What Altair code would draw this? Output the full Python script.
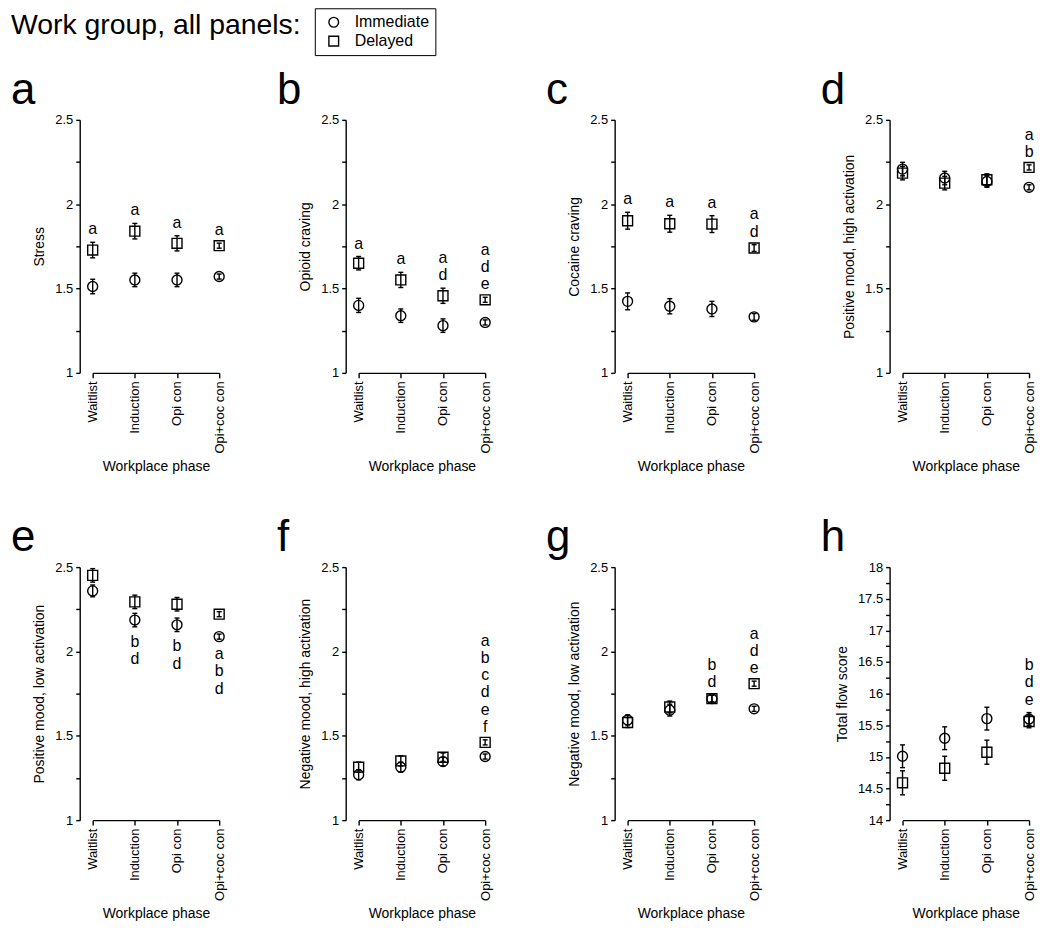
import altair as alt
import pandas as pd

FONT = "Liberation Sans"

header_text = "Work group, all panels:"
phases = ["Waitlist", "Induction", "Opi con", "Opi+coc con"]
groups = ["Immediate", "Delayed"]

panel_letters = ["a", "b", "c", "d", "e", "f", "g", "h"]
y_titles = [
    "Stress",
    "Opioid craving",
    "Cocaine craving",
    "Positive mood, high activation",
    "Positive mood, low activation",
    "Negative mood, high activation",
    "Negative mood, low activation",
    "Total flow score",
]

# Means and standard errors (Immediate / Delayed)
stress_imm = [1.512, 1.551, 1.551, 1.571]
stress_imm_se = [0.043, 0.040, 0.040, 0.015]
stress_del = [1.728, 1.840, 1.768, 1.754]
stress_del_se = [0.046, 0.046, 0.045, 0.015]
stress_letters = ["a", "a", "a", "a"]

opioid_imm = [1.400, 1.339, 1.280, 1.299]
opioid_imm_se = [0.042, 0.040, 0.040, 0.015]
opioid_del = [1.650, 1.551, 1.457, 1.433]
opioid_del_se = [0.040, 0.045, 0.045, 0.015]
opioid_letters = ["a", "a", "ad", "ade"]

cocaine_imm = [1.424, 1.395, 1.379, 1.332]
cocaine_imm_se = [0.050, 0.045, 0.045, 0.020]
cocaine_del = [1.902, 1.884, 1.882, 1.740]
cocaine_del_se = [0.050, 0.050, 0.050, 0.020]
cocaine_letters = ["a", "a", "a", "ad"]

poshigh_imm = [2.208, 2.155, 2.135, 2.100]
poshigh_imm_se = [0.040, 0.040, 0.035, 0.015]
poshigh_del = [2.184, 2.125, 2.145, 2.218]
poshigh_del_se = [0.040, 0.040, 0.035, 0.015]
poshigh_letters = ["", "", "", "ab"]

poslow_imm = [2.359, 2.186, 2.158, 2.088]
poslow_imm_se = [0.035, 0.040, 0.040, 0.015]
poslow_del = [2.451, 2.294, 2.280, 2.221]
poslow_del_se = [0.040, 0.040, 0.040, 0.015]
poslow_letters = ["", "bd", "bd", "abd"]

neghigh_imm = [1.269, 1.314, 1.347, 1.377]
neghigh_imm_se = [0.030, 0.030, 0.025, 0.015]
neghigh_del = [1.314, 1.351, 1.373, 1.461]
neghigh_del_se = [0.030, 0.030, 0.025, 0.015]
neghigh_letters = ["", "", "", "abcdef"]

neglow_imm = [1.594, 1.652, 1.720, 1.660]
neglow_imm_se = [0.030, 0.035, 0.020, 0.015]
neglow_del = [1.579, 1.671, 1.720, 1.809]
neglow_del_se = [0.030, 0.035, 0.020, 0.015]
neglow_letters = ["", "", "bd", "ade"]

flow_imm = [15.01, 15.295, 15.605, 15.60]
flow_imm_se = [0.18, 0.18, 0.18, 0.10]
flow_del = [14.59, 14.82, 15.074, 15.56]
flow_del_se = [0.19, 0.19, 0.19, 0.10]
flow_letters = ["", "", "", "bde"]

mood_domain = [1, 2.5]
mood_ticks = [1, 1.25, 1.5, 1.75, 2, 2.25, 2.5]
flow_domain = [14, 18]
flow_ticks = [14, 14.25, 14.5, 14.75, 15, 15.25, 15.5, 15.75, 16,
              16.25, 16.5, 16.75, 17, 17.25, 17.5, 17.75, 18]

imm = [stress_imm, opioid_imm, cocaine_imm, poshigh_imm, poslow_imm, neghigh_imm, neglow_imm, flow_imm]
imm_se = [stress_imm_se, opioid_imm_se, cocaine_imm_se, poshigh_imm_se, poslow_imm_se,
          neghigh_imm_se, neglow_imm_se, flow_imm_se]
dly = [stress_del, opioid_del, cocaine_del, poshigh_del, poslow_del, neghigh_del, neglow_del, flow_del]
dly_se = [stress_del_se, opioid_del_se, cocaine_del_se, poshigh_del_se, poslow_del_se,
          neghigh_del_se, neglow_del_se, flow_del_se]
letters = [stress_letters, opioid_letters, cocaine_letters, poshigh_letters, poslow_letters,
           neghigh_letters, neglow_letters, flow_letters]
domains = [mood_domain] * 7 + [flow_domain]
ticks = [mood_ticks] * 7 + [flow_ticks]
letter_side = ["above", "above", "above", "above", "below", "above", "above", "above"]

PLOT_W = 127
PLOT_H = 254
LINE_H = 17.3

shape_scale = alt.Scale(domain=groups, range=["circle", "square"])


def panel(i):
    rows = []
    for g, means, ses in ((groups[0], imm[i], imm_se[i]), (groups[1], dly[i], dly_se[i])):
        for p, m, s in zip(phases, means, ses):
            rows.append(dict(phase=p, group=g, mean=m, lo=m - s, hi=m + s))
    df = pd.DataFrame(rows)
    side = letter_side[i]
    lab = []
    for j, p in enumerate(phases):
        if letters[i][j]:
            sub = df[df.phase == p]
            anchor = sub.hi.max() if side == "above" else sub.lo.min()
            chars = list(letters[i][j])
            if side == "above":
                chars = chars[::-1]
            for k, ch in enumerate(chars):
                lab.append(dict(phase=p, letter=ch, k=k, anchor=anchor))
    ldf = pd.DataFrame(lab)

    x = alt.X(
        "phase:N", sort=phases,
        scale=alt.Scale(type="point", padding=0),
        axis=alt.Axis(title="Workplace phase", labelAngle=270, labelPadding=3,
                      tickSize=5, titlePadding=6, labelFontSize=13, titleFontSize=14),
    )
    yscale = alt.Scale(domain=domains[i], nice=False, zero=False)
    yaxis = alt.Axis(title=y_titles[i], values=ticks[i], offset=13, tickSize=4,
                     labelPadding=3, titlePadding=8,
                     labelExpr="datum.value % 0.5 == 0 ? format(datum.value, '~g') : ''")

    def Y(field):
        return alt.Y(field, scale=yscale, axis=yaxis, title=y_titles[i])

    base = alt.Chart(df)
    pts = base.mark_point(filled=False, size=100, strokeWidth=1.4, color="black", opacity=1).encode(
        x=x, y=Y("mean:Q"),
        shape=alt.Shape("group:N", scale=shape_scale, legend=None),
    )
    bars = base.mark_rule(strokeWidth=1.4, color="black").encode(
        x=x, y=Y("lo:Q"), y2="hi:Q")
    cap_lo = base.mark_tick(orient="horizontal", size=5, thickness=1.4, color="black", opacity=1).encode(
        x=x, y=Y("lo:Q"))
    cap_hi = base.mark_tick(orient="horizontal", size=5, thickness=1.4, color="black", opacity=1).encode(
        x=x, y=Y("hi:Q"))
    layers = [pts, bars, cap_lo, cap_hi]
    nmax = int(ldf.k.max()) + 1
    for k in range(nmax):
        if side == "above":
            m = alt.Chart(ldf).transform_filter(alt.datum.k == k).mark_text(
                font=FONT, fontSize=16, baseline="bottom", dy=-5 - LINE_H * k, color="black")
        else:
            m = alt.Chart(ldf).transform_filter(alt.datum.k == k).mark_text(
                font=FONT, fontSize=16, baseline="top", dy=7 + LINE_H * k, color="black")
        layers.append(m.encode(x=x, y=Y("anchor:Q"), text="letter:N"))

    return alt.layer(*layers).properties(
        width=PLOT_W, height=PLOT_H,
        title=alt.Title(panel_letters[i], anchor="start", frame="group", dx=-82,
                        fontSize=44, fontWeight="normal", font=FONT, color="black",
                        baseline="alphabetic", offset=-34),
    )


def row(start):
    ab = alt.hconcat(panel(start), panel(start + 1), spacing=50)
    abc = alt.hconcat(ab, panel(start + 2), spacing=53)
    return alt.hconcat(abc, panel(start + 3), spacing=59)


hdr_txt = alt.Chart(pd.DataFrame({"t": [header_text]})).mark_text(
    align="left", baseline="alphabetic", fontSize=28.5, font=FONT, color="black"
).encode(text="t:N", x=alt.value(-82), y=alt.value(26))
hdr_pts = alt.Chart(pd.DataFrame({"group": groups})).mark_point(opacity=0, filled=False).encode(
    shape=alt.Shape("group:N", scale=shape_scale, legend=alt.Legend(
        title=None, orient="right", offset=15, strokeColor="black", padding=6,
        fillColor="white", labelFont=FONT, labelFontSize=16, labelColor="black",
        symbolSize=95, symbolStrokeWidth=1.4, symbolStrokeColor="black",
        symbolFillColor="transparent", symbolOpacity=1, labelOffset=13,
        symbolOffset=5, rowPadding=3)),
)
header = alt.layer(hdr_txt, hdr_pts).properties(width=208, height=45)

grid = alt.vconcat(row(0), row(4), spacing=43)

chart = alt.vconcat(header, grid, spacing=13).resolve_scale(shape="independent").properties(
    padding={"left": 3, "top": -2.5, "right": 5, "bottom": 5},
).configure_view(stroke=None).configure_axis(
    domainColor="black", domainWidth=1.4, tickColor="black", tickWidth=1.4,
    labelColor="black", titleColor="black", labelFont=FONT, titleFont=FONT,
    labelFontSize=13, titleFontSize=14, titleFontWeight="normal", grid=False,
)

chart.save("out.html", embed_options={"renderer": "svg", "actions": False})
